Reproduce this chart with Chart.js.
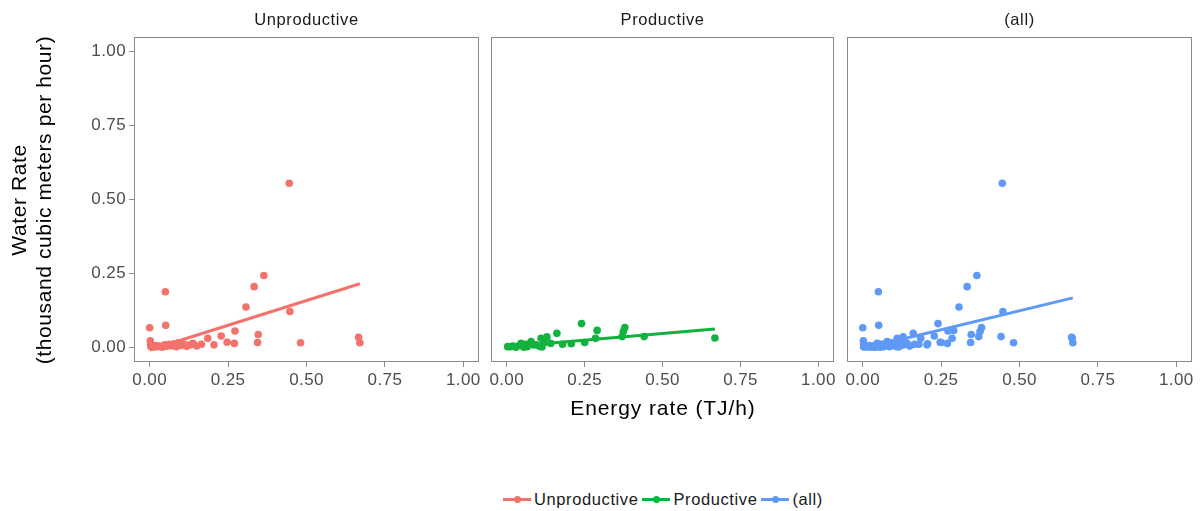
<!DOCTYPE html>
<html>
<head>
<meta charset="utf-8">
<script src="https://cdn.jsdelivr.net/npm/chart.js@4.4.1/dist/chart.umd.min.js"></script>
<style>
  html, body { margin: 0; padding: 0; background: #ffffff; }
  body { width: 1202px; height: 511px; position: relative; overflow: hidden;
         font-family: "Liberation Sans", Arial, sans-serif; }
  canvas { position: absolute; top: 0; }
  .strip { position: absolute; top: 9px; height: 20px; line-height: 20px; text-align: center;
           font-size: 16.5px; letter-spacing: 0.6px; color: #1a1a1a; }
  .xtitle { position: absolute; left: 134px; width: 1058px; top: 395px; height: 26px; line-height: 26px;
            text-align: center; font-size: 21px; letter-spacing: 0.9px; color: #000; }
  .ytitle { position: absolute; left: 32px; top: 200px; width: 400px; height: 52px;
            transform: translate(-50%, -50%) rotate(-90deg); text-align: center;
            font-size: 21px; line-height: 25px; letter-spacing: 0.6px; color: #000; }
  .legend { position: absolute; left: 134px; width: 1058px; top: 487px; height: 24px;
            display: flex; justify-content: center; align-items: center;
            font-size: 16.5px; letter-spacing: 0.6px; color: #1a1a1a; }
  .legend .item { display: flex; align-items: center; margin: 0 2px; }
  .legend .key { position: relative; width: 28px; height: 3px; margin-right: 3px; }
  .legend .key i { position: absolute; left: 11px; top: -2px; width: 7px; height: 7px; border-radius: 50%; }
</style>
</head>
<body>
<script>
// Series: energy rate (TJ/h) vs water rate (thousand m3/h)
const unprodEnergy = [0.000, 0.002, 0.003, 0.004, 0.010, 0.015, 0.020, 0.025, 0.032, 0.040, 0.048, 0.050, 0.051,
                      0.055, 0.062, 0.070, 0.078, 0.085, 0.092, 0.100, 0.110, 0.118, 0.130, 0.138, 0.150, 0.165,
                      0.185, 0.205, 0.228, 0.247, 0.270, 0.272, 0.307, 0.333, 0.344, 0.346, 0.364, 0.445, 0.447,
                      0.481, 0.666, 0.670];
const unprodWater  = [0.066, 0.022, 0.010, 0.002, 0.004, 0.001, 0.006, 0.002, 0.004, 0.000, 0.008, 0.188, 0.074,
                      0.003, 0.010, 0.005, 0.012, 0.002, 0.015, 0.006, 0.010, 0.003, 0.008, 0.013, 0.004, 0.010,
                      0.030, 0.008, 0.038, 0.017, 0.013, 0.055, 0.136, 0.205, 0.016, 0.043, 0.243, 0.555, 0.121,
                      0.015, 0.034, 0.015];

const prodEnergy = [0.003, 0.011, 0.020, 0.029, 0.040, 0.046, 0.055, 0.060, 0.066, 0.078, 0.085, 0.094, 0.105,
                    0.110, 0.113, 0.120, 0.129, 0.141, 0.161, 0.179, 0.207, 0.240, 0.250, 0.285, 0.290, 0.370,
                    0.374, 0.379, 0.441, 0.668];
const prodWater  = [0.002, 0.002, 0.004, 0.000, 0.006, 0.013, 0.000, 0.010, 0.002, 0.019, 0.008, 0.008, 0.003,
                    0.030, 0.001, 0.015, 0.035, 0.013, 0.047, 0.010, 0.012, 0.080, 0.016, 0.030, 0.057, 0.036,
                    0.053, 0.067, 0.036, 0.031];

// Linear fit endpoints for each panel
const unprodFitEnergy = [0.000, 0.670];
const unprodFitWater  = [-0.0095, 0.215];
const prodFitEnergy   = [0.003, 0.668];
const prodFitWater    = [0.002, 0.062];
const allFitEnergy    = [0.000, 0.670];
const allFitWater     = [-0.005, 0.167];

const panelNames = ['Unproductive', 'Productive', '(all)'];
const seriesColors = ['#F2736B', '#13B23F', '#5E99F5'];

const tickValues = [0, 0.25, 0.5, 0.75, 1];
const tickLabels = ['0.00', '0.25', '0.50', '0.75', '1.00'];

const xTitle = 'Energy rate (TJ/h)';
const yTitleLines = ['Water Rate', '(thousand cubic meters per hour)'];

// ---- build ----
function toPoints(xs, ys) { return xs.map((x, i) => ({ x: x, y: ys[i] })); }

const panelPoints = [
  toPoints(unprodEnergy, unprodWater),
  toPoints(prodEnergy, prodWater),
  toPoints(unprodEnergy.concat(prodEnergy), unprodWater.concat(prodWater))
];
const panelFits = [
  toPoints(unprodFitEnergy, unprodFitWater),
  toPoints(prodFitEnergy, prodFitWater),
  toPoints(allFitEnergy, allFitWater)
];

// canvas placement: [canvasLeft, canvasWidth, padLeft, padRight, yAxisShown]
const frames = [
  [0, 490, 0, 11, true],
  [487, 357, 4, 10, false],
  [843, 359, 4, 10, false]
];
const CANVAS_H = 400, AREA_TOP = 37, AREA_BOTTOM = 362, Y_AXIS_W = 134;
const TICK_FONT = { family: '"Liberation Sans", Arial, sans-serif', size: 17 };
const TICK_COLOR = '#4d4d4d', FRAME_COLOR = '#8a8a8a';

const panelFrame = {
  id: 'panelFrame',
  beforeDraw(chart) { chart.ctx.letterSpacing = '0.4px'; },
  afterDraw(chart) {
    const a = chart.chartArea, ctx = chart.ctx;
    ctx.save();
    ctx.strokeStyle = FRAME_COLOR;
    ctx.lineWidth = 1;
    ctx.strokeRect(Math.round(a.left) + 0.5, Math.round(a.top) + 0.5,
                   Math.round(a.right - a.left) - 1, Math.round(a.bottom - a.top) - 1);
    ctx.restore();
  }
};

function fixedTicks(scale) {
  scale.ticks = tickValues.map(v => ({ value: v }));
}
function tickLabel(value) {
  const i = tickValues.indexOf(value);
  return i >= 0 ? tickLabels[i] : '';
}

panelNames.forEach((name, p) => {
  const [cl, cw, pl, pr, showY] = frames[p];
  const cv = document.createElement('canvas');
  cv.width = cw; cv.height = CANVAS_H;
  cv.style.left = cl + 'px';
  cv.style.width = cw + 'px'; cv.style.height = CANVAS_H + 'px';
  document.body.appendChild(cv);

  const strip = document.createElement('div');
  strip.className = 'strip';
  strip.textContent = name;
  document.body.appendChild(strip);

  const color = seriesColors[p];
  const chart = new Chart(cv, {
    type: 'scatter',
    data: {
      datasets: [
        { type: 'line', label: name + ' fit', data: panelFits[p], borderColor: color,
          borderWidth: 3, pointRadius: 0, fill: false, tension: 0 },
        { type: 'scatter', label: name, data: panelPoints[p], backgroundColor: color,
          borderWidth: 0, pointRadius: 3.8, pointHoverRadius: 3.8 }
      ]
    },
    options: {
      responsive: false, animation: false, devicePixelRatio: 1,
      layout: { padding: { top: AREA_TOP, bottom: 0, left: pl, right: pr } },
      plugins: { legend: { display: false }, tooltip: { enabled: false }, title: { display: false } },
      scales: {
        x: {
          type: 'linear', min: -0.05, max: 1.05,
          afterBuildTicks: fixedTicks,
          afterFit(s) { s.height = CANVAS_H - AREA_BOTTOM; },
          grid: { display: true, drawOnChartArea: false, drawTicks: true, tickLength: 5,
                  color: FRAME_COLOR, lineWidth: 1 },
          border: { display: false },
          ticks: { font: TICK_FONT, color: TICK_COLOR, padding: 3, maxRotation: 0,
                   autoSkip: false, callback: tickLabel }
        },
        y: {
          type: 'linear', min: -0.05, max: 1.05, display: showY,
          afterBuildTicks: fixedTicks,
          afterFit(s) { s.width = showY ? Y_AXIS_W - pl : 0; },
          grid: { display: true, drawOnChartArea: false, drawTicks: true, tickLength: 5,
                  color: FRAME_COLOR, lineWidth: 1 },
          border: { display: false },
          ticks: { font: TICK_FONT, color: TICK_COLOR, padding: 3, autoSkip: false, callback: tickLabel }
        }
      }
    },
    plugins: [panelFrame]
  });

  const a = chart.chartArea;
  strip.style.left = (cl + a.left) + 'px';
  strip.style.width = (a.right - a.left) + 'px';
});

// axis titles
const xt = document.createElement('div');
xt.className = 'xtitle';
xt.textContent = xTitle;
document.body.appendChild(xt);

const yt = document.createElement('div');
yt.className = 'ytitle';
yt.innerHTML = yTitleLines.map(s => '<div>' + s + '</div>').join('');
document.body.appendChild(yt);

// legend
const lg = document.createElement('div');
lg.className = 'legend';
panelNames.forEach((name, p) => {
  const item = document.createElement('div');
  item.className = 'item';
  const key = document.createElement('span');
  key.className = 'key';
  key.style.background = seriesColors[p];
  const dot = document.createElement('i');
  dot.style.background = seriesColors[p];
  key.appendChild(dot);
  const label = document.createElement('span');
  label.textContent = name;
  item.appendChild(key);
  item.appendChild(label);
  lg.appendChild(item);
});
document.body.appendChild(lg);
</script>
</body>
</html>
